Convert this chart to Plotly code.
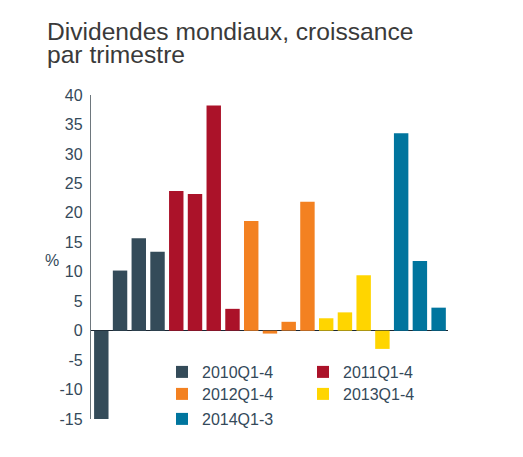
import plotly.graph_objects as go

quarters = ["2010Q1", "2010Q2", "2010Q3", "2010Q4",
            "2011Q1", "2011Q2", "2011Q3", "2011Q4",
            "2012Q1", "2012Q2", "2012Q3", "2012Q4",
            "2013Q1", "2013Q2", "2013Q3", "2013Q4",
            "2014Q1", "2014Q2", "2014Q3"]

v2010 = [-15.0, 10.2, 15.7, 13.4]
v2011 = [23.7, 23.2, 38.2, 3.7]
v2012 = [18.6, -0.5, 1.5, 21.9]
v2013 = [2.1, 3.1, 9.4, -3.1]
v2014 = [33.5, 11.8, 3.9]

tick_values = [-15, -10, -5, 0, 5, 10, 15, 20, 25, 30, 35, 40]
tick_labels = ["-15", "-10", "-5", "0", "5", "10", "15", "20", "25", "30", "35", "40"]

series = [
    ("2010Q1-4", quarters[0:4], v2010, "#344b59", "legend"),
    ("2011Q1-4", quarters[4:8], v2011, "#ab1229", "legend"),
    ("2012Q1-4", quarters[8:12], v2012, "#f38121", "legend2"),
    ("2013Q1-4", quarters[12:16], v2013, "#ffd500", "legend2"),
    ("2014Q1-3", quarters[16:19], v2014, "#00759e", "legend3"),
]

TXT = "#34495a"
FONT = "Liberation Sans"

fig = go.Figure()
for name, xs, ys, col, lg in series:
    fig.add_trace(go.Bar(x=xs, y=ys, name=name, marker=dict(color=col, line=dict(width=0)),
                         legend=lg))

# page body has an 8px margin; work in reference-pixel coordinates
OFF = 8
W, H = 523 - OFF, 457 - OFF
L_ref, R_ref, T_ref, B_ref = 91, 448, 95, 419  # plot area in reference pixels
L, T = L_ref - OFF, T_ref - OFF
R = W - (R_ref - OFF)
B = H - (B_ref - OFF)
pw, ph = R_ref - L_ref, B_ref - T_ref

def px(x):
    return (x - L_ref) / pw

def py(y):
    return (B_ref - y) / ph

legend_common = dict(orientation="h", xanchor="left", yanchor="middle",
                     font=dict(family=FONT, size=16, color=TXT),
                     entrywidth=96, entrywidthmode="pixels",
                     bgcolor="rgba(0,0,0,0)", itemclick=False)

fig.update_layout(
    width=W, height=H,
    margin=dict(l=L, r=R, t=T, b=B, autoexpand=False),
    paper_bgcolor="white", plot_bgcolor="white",
    barmode="overlay", bargap=0.23,
    font=dict(family=FONT, color=TXT),
    xaxis=dict(type="category", categoryorder="array", categoryarray=quarters,
               range=[-0.55, 18.5], showticklabels=False, showline=False,
               showgrid=False, zeroline=False, ticks=""),
    yaxis=dict(range=[-15, 40], tickmode="array", tickvals=tick_values, ticktext=tick_labels,
               showgrid=False,
               showline=True, linecolor="#6e777d", linewidth=1.3,
               zeroline=True, zerolinecolor="#1b2733", zerolinewidth=1.3,
               ticks="", ticklabelstandoff=4,
               tickfont=dict(family=FONT, size=16, color=TXT)),
    legend=dict(x=px(162), y=py(372), **legend_common),
    legend2=dict(x=px(162), y=py(394), **legend_common),
    legend3=dict(x=px(162), y=py(419), **legend_common),
    showlegend=True,
    annotations=[
        dict(text="Dividendes mondiaux, croissance", xref="paper", yref="paper",
             x=px(45), y=py(31), xanchor="left", yanchor="middle", showarrow=False,
             font=dict(family=FONT, size=24.6, color="#3a3a3a")),
        dict(text="par trimestre", xref="paper", yref="paper",
             x=px(45), y=py(54), xanchor="left", yanchor="middle", showarrow=False,
             font=dict(family=FONT, size=24.6, color="#3a3a3a")),
        dict(text="%", xref="paper", yref="paper",
             x=px(51.5), y=py(260), xanchor="center", yanchor="middle", showarrow=False,
             font=dict(family=FONT, size=16, color=TXT)),
    ],
)

fig.write_html("out.html")
